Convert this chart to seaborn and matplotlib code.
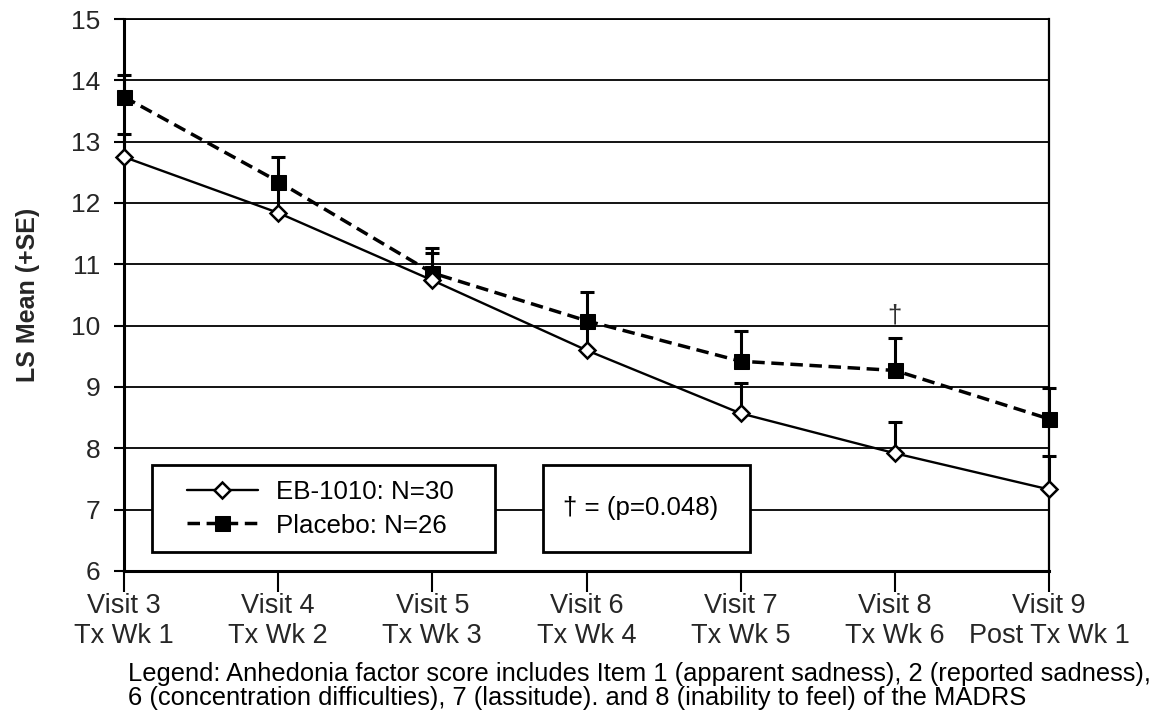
import matplotlib
matplotlib.use("Agg")
import matplotlib.pyplot as plt
from matplotlib.patches import Rectangle
import seaborn as sns
import numpy as np

visit_labels = ["Visit 3\nTx Wk 1", "Visit 4\nTx Wk 2", "Visit 5\nTx Wk 3", "Visit 6\nTx Wk 4",
                "Visit 7\nTx Wk 5", "Visit 8\nTx Wk 6", "Visit 9\nPost Tx Wk 1"]
eb_mean = [12.75, 11.84, 10.74, 9.60, 8.57, 7.92, 7.33]
eb_se = [0.38, 0.45, 0.45, 0.48, 0.50, 0.51, 0.55]
pl_mean = [13.73, 12.35, 10.86, 10.08, 9.42, 9.27, 8.48]
pl_se = [0.36, 0.40, 0.41, 0.47, 0.50, 0.53, 0.51]
eb_label = "EB-1010: N=30"
pl_label = "Placebo: N=26"
sig_text = "\u2020 = (p=0.048)"
footnote = ("Legend: Anhedonia factor score includes Item 1 (apparent sadness), 2 (reported sadness),\n"
            "6 (concentration difficulties), 7 (lassitude). and 8 (inability to feel) of the MADRS")

sns.set_theme(style="white")
plt.rcParams["font.family"] = ["Liberation Sans", "DejaVu Sans"]
plt.rcParams["text.color"] = "black"

FS = 18.6

fig = plt.figure(figsize=(11.57, 7.21), dpi=100)
ax = fig.add_axes([124/1157, 1-571/721, 925/1157, 552/721])

x = np.arange(len(visit_labels))

# error bars (upper only, +SE)
ax.errorbar(x, pl_mean, yerr=[np.zeros(len(x)), pl_se], fmt="none", ecolor="black",
            elinewidth=2.2, capsize=4.8, capthick=2.2, zorder=3, clip_on=False)
ax.errorbar(x, eb_mean, yerr=[np.zeros(len(x)), eb_se], fmt="none", ecolor="black",
            elinewidth=2.2, capsize=4.8, capthick=2.2, zorder=3, clip_on=False)

sns.lineplot(x=x, y=pl_mean, ax=ax, color="black", linewidth=2.5, linestyle=(0, (3.6, 1.9)),
             marker="s", markersize=10.8, markerfacecolor="black", markeredgecolor="black",
             label=pl_label, zorder=4, clip_on=False)
sns.lineplot(x=x, y=eb_mean, ax=ax, color="black", linewidth=1.7, linestyle="-",
             marker="D", markersize=8.2, markerfacecolor="white", markeredgecolor="black",
             markeredgewidth=1.8, label=eb_label, zorder=5, clip_on=False)

ax.set_xlim(0, 6)
ax.set_ylim(6, 15)
ax.set_yticks(range(6, 16))
ax.set_xticks(x)
ax.set_xticklabels(visit_labels, fontsize=19.5, linespacing=1.2)
ax.tick_params(axis="y", labelsize=19, length=7, width=1.5, color="black", pad=10, left=True)
ax.tick_params(axis="x", length=15, width=1.5, color="black", pad=0.5, bottom=True)
ax.grid(axis="y", color="black", linewidth=1.3)
ax.grid(axis="x", visible=False)
ax.set_axisbelow(True)
for s in ["left", "bottom"]:
    ax.spines[s].set_linewidth(2.2)
    ax.spines[s].set_color("black")
ax.spines["right"].set_linewidth(1.6)
ax.spines["right"].set_color("black")
ax.spines["top"].set_linewidth(1.3)
ax.spines["top"].set_color("black")
ax.set_ylabel("LS Mean (+SE)", fontsize=18, fontweight="bold", labelpad=22)
ax.set_xlabel("")

# legend boxes
ax.add_patch(Rectangle((0.0303, 0.0344), 0.3707, 0.1576, transform=ax.transAxes,
                       facecolor="white", edgecolor="black", linewidth=2, zorder=6))
ax.add_patch(Rectangle((0.453, 0.0344), 0.224, 0.1576, transform=ax.transAxes,
                       facecolor="white", edgecolor="black", linewidth=2, zorder=6))
handles, labels = ax.get_legend_handles_labels()
order = [labels.index(eb_label), labels.index(pl_label)]
leg = ax.legend([handles[i] for i in order], [labels[i] for i in order],
                loc="center left", bbox_to_anchor=((187-124)/925, 0.113), frameon=False,
                fontsize=FS, handlelength=2.73, handletextpad=0.73, labelspacing=0.38,
                borderpad=0, borderaxespad=0)
leg.set_zorder(7)
ax.text(0.558, 0.114, sig_text, transform=ax.transAxes, ha="center", va="center",
        fontsize=FS, zorder=7)

# significance marker above Visit 8
ax.text(5, pl_mean[5] + pl_se[5] + 0.36, "\u2020", ha="center", va="center", fontsize=FS,
        color="#333333", zorder=7)

fig.text(128/1157, 1-662/721, footnote, ha="left", va="top", fontsize=18.35, linespacing=0.98)

fig.savefig("out.png", dpi=100)
